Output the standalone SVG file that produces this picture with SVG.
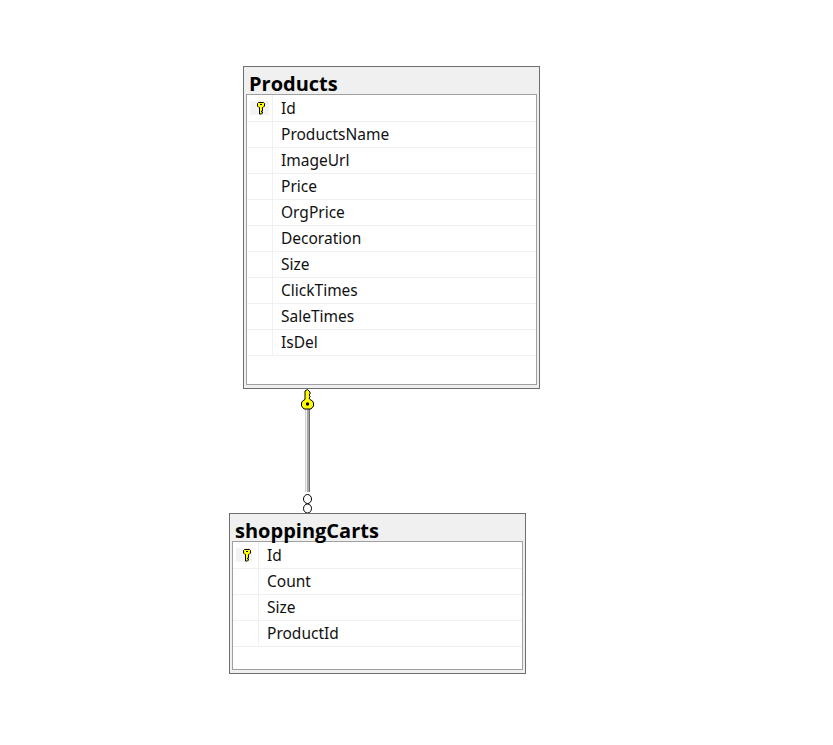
<svg xmlns="http://www.w3.org/2000/svg" width="833" height="745" viewBox="0 0 833 745">
<style>
.frame{fill:#f0f0f0;stroke:#6e6e6e;stroke-width:1}
.body{fill:#fff;stroke:#a0a0a0;stroke-width:1}
.row{stroke:#f0f0f0;stroke-width:1;fill:none}
.title{font:bold 20px "Open Sans","Noto Sans","Liberation Sans",sans-serif;fill:#000}
.col{font:15.500px "Noto Sans","Open Sans","Liberation Sans",sans-serif;fill:#111}
.keycell{fill:#f3f3f3}
.key{fill:#ffff00;stroke:#000;stroke-width:1}
</style>
<defs>
<g id="smallkey">
<path class="key" d="M-2.500 -5.500h5l1 1v2.500l-1.500 1.500h-0.500v3.500h-1v1h1v1l-1 1h-2v-6.500h-0.500l-1.500-1.500v-2.500z"/>
<path d="M-1 -3.500h2" stroke="#000" stroke-width="1"/>
</g>
</defs>
<rect width="833" height="745" fill="#fff"/>
<g id="connectors">
<rect x="305" y="409" width="5" height="83" fill="#a8a8a8"/>
<rect x="305" y="409" width="1" height="83" fill="#d0d0d0"/>
<rect x="306" y="409" width="1" height="83" fill="#f0f0f0"/>
<rect x="309" y="409" width="1" height="83" fill="#707070"/>
<path d="M307.500 389.500l2.500 2.500v2l-1 1 1 1v1l-1 1 1 1.500 2.500 1.500 1 2v3l-2.500 3h-7l-2.500-3v-3l1-2 2.500-1.500v-8.500z" fill="#ffff00" stroke="#000" stroke-width="1"/>
<circle cx="307.500" cy="404" r="1.700" fill="#000"/>
<ellipse cx="307.500" cy="499" rx="4" ry="4.500" fill="#fff" stroke="#000" stroke-width="1"/>
<ellipse cx="307.500" cy="508.500" rx="4" ry="4.500" fill="#fff" stroke="#000" stroke-width="1"/>
</g>
<g id="node-products">
<rect class="frame" x="243.500" y="66.500" width="296" height="322"/>
<rect class="body" x="246.500" y="94.500" width="290" height="290"/>
<path class="row" d="M247 121.500H536M247 147.500H536M247 173.500H536M247 199.500H536M247 225.500H536M247 251.500H536M247 277.500H536M247 303.500H536M247 329.500H536M247 355.500H536M272.500 95V355"/>
<rect class="keycell" x="250" y="101" width="19" height="14"/>
<use href="#smallkey" x="261" y="108"/>
<text class="title" x="249" y="91">Products</text>
<text class="col" x="281" y="114">Id</text>
<text class="col" x="281" y="140">ProductsName</text>
<text class="col" x="281" y="166">ImageUrl</text>
<text class="col" x="281" y="192">Price</text>
<text class="col" x="281" y="218">OrgPrice</text>
<text class="col" x="281" y="244">Decoration</text>
<text class="col" x="281" y="270">Size</text>
<text class="col" x="281" y="296">ClickTimes</text>
<text class="col" x="281" y="322">SaleTimes</text>
<text class="col" x="281" y="348">IsDel</text>
</g>
<g id="node-shoppingCarts">
<rect class="frame" x="229.500" y="513.500" width="296" height="160"/>
<rect class="body" x="232.500" y="541.500" width="290" height="128"/>
<path class="row" d="M233 568.500H522M233 594.500H522M233 620.500H522M233 646.500H522M258.500 542V646"/>
<rect class="keycell" x="236" y="548" width="16" height="14"/>
<use href="#smallkey" x="247" y="555"/>
<text class="title" x="235" y="538">shoppingCarts</text>
<text class="col" x="267" y="561">Id</text>
<text class="col" x="267" y="587">Count</text>
<text class="col" x="267" y="613">Size</text>
<text class="col" x="267" y="639">ProductId</text>
</g>
</svg>
